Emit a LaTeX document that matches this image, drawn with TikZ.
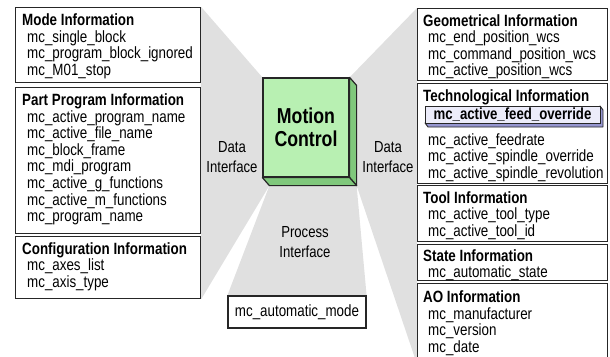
\documentclass[tikz,border=0pt]{standalone}
\usepackage{fontspec}
\setmainfont{Liberation Sans}[FakeStretch=0.82]
\usetikzlibrary{calc,positioning,backgrounds}

\definecolor{wedgegray}{RGB}{224,224,224}
\definecolor{cubefront}{RGB}{184,240,178}
\definecolor{cubeside}{RGB}{128,200,124}
\definecolor{feedfront}{RGB}{236,236,250}
\definecolor{feedside}{RGB}{150,150,208}

\newcommand{\entry}[1]{\hspace*{5pt}#1}

\tikzset{
    infobox/.style={draw=black!85, fill=white, line width=1.2pt, anchor=north west, inner sep=0pt},
    infotext/.style={anchor=north west, inner sep=0pt, align=left, font=\fontsize{16.3}{16.6}\selectfont},
    ifacetext/.style={align=center, inner sep=0pt, font=\fontsize{16}{19.5}\selectfont},
    mcbox/.style={draw=black!85, line width=1.2pt, fill=cubefront, minimum width=86pt, minimum height=99pt,
        align=center, inner sep=0pt, font=\bfseries\fontsize{21.6}{23}\selectfont},
    feedbox/.style={draw=black!85, line width=0.9pt, fill=feedfront, minimum width=175pt, minimum height=17pt,
        inner sep=0pt, font=\bfseries\fontsize{16.1}{16}\selectfont}
}

\begin{document}
\begin{tikzpicture}[x=1pt, y=-1pt]
            \useasboundingbox (0,0) rectangle (610,356);

            % Left information boxes
            \node[infobox, minimum width=185pt, minimum height=75pt] (mode) at (15,7) {};
            \node[infobox, minimum width=185pt, minimum height=146pt] (prog) at (15,87) {};
            \node[infobox, minimum width=185pt, minimum height=62pt] (conf) at (15,236) {};

            % Right information boxes
            \node[infobox, minimum width=190pt, minimum height=72pt] (geo) at (417,8) {};
            \node[infobox, minimum width=190pt, minimum height=100pt] (tech) at (417,83) {};
            \node[infobox, minimum width=190pt, minimum height=56pt] (tool) at (417,185) {};
            \node[infobox, minimum width=190pt, minimum height=36pt] (state) at (417,244) {};
            \node[infobox, minimum width=190pt, minimum height=80pt] (ao) at (417,283) {};

            % Motion control block with its side faces
            \node[mcbox] (mc) at (306,127.5) {Motion\\Control};
            \filldraw[draw=black!85, line width=1.2pt, fill=cubeside, line join=round]
                (mc.north east) -- ($(mc.north east)+(7,8)$) -- ($(mc.south east)+(7,8)$) -- (mc.south east) -- cycle;
            \filldraw[draw=black!85, line width=1.2pt, fill=cubeside, line join=round]
                (mc.south west) -- ($(mc.south west)+(7,8)$) -- ($(mc.south east)+(7,8)$) -- (mc.south east) -- cycle;

            % Process interface box
            \node[infobox, anchor=center, minimum width=138pt, minimum height=32pt,
                font=\fontsize{16.3}{16}\selectfont] (auto) at (297,312) {mc\_automatic\_mode};

            % Gray interface wedges behind everything
            \begin{scope}[on background layer]
                \fill[wedgegray] (mode.north east) -- (mc.north west) -- ($(mc.south west)+(7,8)$) -- (conf.south east) -- cycle;
                \fill[wedgegray] (geo.north west) -- (mc.north east) -- ($(mc.south east)+(7,8)$) -- (ao.south west) -- cycle;
                \fill[wedgegray] ($(mc.south west)+(7,8)$) -- ($(mc.south east)+(7,8)$) -- (auto.north east) -- (auto.north west) -- cycle;
            \end{scope}

            % Interface labels
            \node[ifacetext] (dileft) at (232,157) {Data\\Interface};
            \node[ifacetext] (diright) at (388,157) {Data\\Interface};
            \node[ifacetext] (pi) at (305,242) {Process\\Interface};

            % Texts of the left boxes
            \node[infotext, below right=6.5pt and 7pt of mode.north west] (modetext)
                {\textbf{Mode Information}\\ \entry{mc\_single\_block}\\ \entry{mc\_program\_block\_ignored}\\ \entry{mc\_M01\_stop}};
            \node[infotext, below right=6.5pt and 7pt of prog.north west] (progtext)
                {\textbf{Part Program Information}\\ \entry{mc\_active\_program\_name}\\ \entry{mc\_active\_file\_name}\\
                 \entry{mc\_block\_frame}\\ \entry{mc\_mdi\_program}\\ \entry{mc\_active\_g\_functions}\\
                 \entry{mc\_active\_m\_functions}\\ \entry{mc\_program\_name}};
            \node[infotext, below right=6pt and 7pt of conf.north west] (conftext)
                {\textbf{Configuration Information}\\ \entry{mc\_axes\_list}\\ \entry{mc\_axis\_type}};

            % Texts of the right boxes
            \node[infotext, below right=6pt and 6pt of geo.north west] (geotext)
                {\textbf{Geometrical Information}\\ \entry{mc\_end\_position\_wcs}\\ \entry{mc\_command\_position\_wcs}\\
                 \entry{mc\_active\_position\_wcs}};
            \node[infotext, below right=6pt and 6pt of tech.north west] (techhead) {\textbf{Technological Information}};
            \filldraw[draw=black!85, line width=0.9pt, fill=feedside, line join=round]
                (512.5,114.5) ++(87.5,-8.5) -- ++(3,4) -- ++(0,17) -- ++(-175,0) -- ++(-3,-4) -- ++(175,0) -- cycle;
            \node[feedbox] (feed) at (512.5,114.5) {mc\_active\_feed\_override};
            \node[infotext, below right=50pt and 6pt of tech.north west] (techtext)
                {\entry{mc\_active\_feedrate}\\ \entry{mc\_active\_spindle\_override}\\ \entry{mc\_active\_spindle\_revolution}};
            \node[infotext, below right=6pt and 6pt of tool.north west] (tooltext)
                {\textbf{Tool Information}\\ \entry{mc\_active\_tool\_type}\\ \entry{mc\_active\_tool\_id}};
            \node[infotext, below right=5pt and 6pt of state.north west] (statetext)
                {\textbf{State Information}\\ \entry{mc\_automatic\_state}};
            \node[infotext, below right=7.5pt and 6pt of ao.north west] (aotext)
                {\textbf{AO Information}\\ \entry{mc\_manufacturer}\\ \entry{mc\_version}\\ \entry{mc\_date}};
        \end{tikzpicture}
\end{document}
